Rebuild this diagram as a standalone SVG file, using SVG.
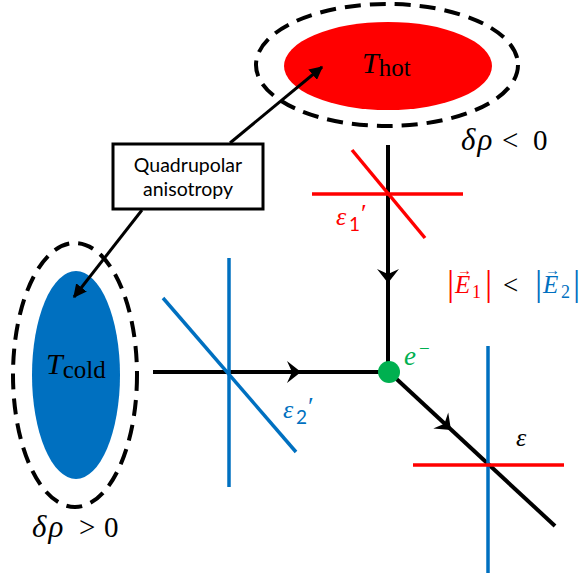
<svg xmlns="http://www.w3.org/2000/svg" width="584" height="575" viewBox="0 0 584 575">
<style>
.blk{stroke:#000;stroke-width:4;fill:none}
.red{stroke:#FF0000;stroke-width:3.5;fill:none}
.blu{stroke:#0070C0;stroke-width:3.5;fill:none}
.dash{stroke:#000;stroke-width:4;fill:none;stroke-dasharray:16 9}
.m{font-family:"Liberation Serif","DejaVu Serif",serif}
.s{font-family:"Lato","Liberation Sans",sans-serif}
.i{font-style:italic}
</style>
<defs>
<path id="chev" d="M0,0 L-14,-11 L-9,0 L-14,11 Z" fill="#000"/>
<marker id="tri" viewBox="0 0 10 10" refX="9" refY="5" markerWidth="4.5" markerHeight="4.5" orient="auto" markerUnits="strokeWidth">
<path d="M0,0 L10,5 L0,10 Z" fill="#000"/>
</marker>
</defs>
<rect width="584" height="575" fill="#fff"/>

<g id="hot">
<ellipse cx="387" cy="65" rx="131" ry="61" class="dash"/>
<ellipse cx="388" cy="66" rx="104" ry="44" fill="#FF0000"/>
<text x="362" y="73" class="m" font-size="30"><tspan class="i">T</tspan><tspan font-size="25" dy="3">hot</tspan></text>
<text y="150" class="m" font-size="29"><tspan x="461" class="i" font-size="31" letter-spacing="2">δρ</tspan><tspan x="502">&lt;</tspan><tspan x="533">0</tspan></text>
</g>

<g id="cold">
<ellipse cx="75" cy="375" rx="62" ry="132" class="dash"/>
<ellipse cx="76" cy="375" rx="44" ry="104" fill="#0070C0"/>
<text x="46" y="374" class="m" font-size="30"><tspan class="i">T</tspan><tspan font-size="25" dy="4">cold</tspan></text>
<text y="537" class="m" font-size="29"><tspan x="32" class="i" font-size="31" letter-spacing="2">δρ</tspan><tspan x="79">&gt;</tspan><tspan x="104">0</tspan></text>
</g>

<g id="box">
<rect x="113" y="144" width="150" height="65" fill="#fff" stroke="#000" stroke-width="3"/>
<text x="188" y="172" class="s" font-size="19.5" text-anchor="middle">Quadrupolar</text>
<text x="188" y="196" class="s" font-size="19.5" text-anchor="middle">anisotropy</text>
</g>

<g id="connectors">
<line x1="230" y1="143" x2="322" y2="67" stroke="#000" stroke-width="3" marker-end="url(#tri)"/>
<line x1="142" y1="210" x2="74" y2="297" stroke="#000" stroke-width="3" marker-end="url(#tri)"/>
<line x1="388" y1="145" x2="388" y2="372" class="blk"/>
<line x1="153" y1="372" x2="389" y2="372" class="blk"/>
<line x1="389" y1="372" x2="555" y2="526" class="blk"/>
<use href="#chev" transform="translate(388,283) rotate(90)"/>
<use href="#chev" transform="translate(301,372)"/>
<use href="#chev" transform="translate(451,430) rotate(42.9)"/>
</g>

<g id="polarizer1">
<line x1="312" y1="194" x2="463" y2="194" class="red"/>
<line x1="352" y1="150" x2="425" y2="238" class="red"/>
<text y="225" font-size="26" fill="#FF0000"><tspan x="336" class="m i">ε</tspan><tspan x="349" y="231" class="s" font-size="19">1</tspan><tspan x="361" y="222" class="m">′</tspan></text>
</g>

<g id="polarizer2">
<line x1="229" y1="258" x2="229" y2="487" class="blu"/>
<line x1="163" y1="298" x2="296" y2="452" class="blu"/>
<text y="418" font-size="26" fill="#0070C0"><tspan x="283" class="m i">ε</tspan><tspan x="296" y="424" class="s" font-size="19">2</tspan><tspan x="308" y="415" class="m">′</tspan></text>
</g>

<g id="detector">
<line x1="488" y1="346" x2="488" y2="573" class="blu"/>
<line x1="413" y1="465" x2="564" y2="465" class="red"/>
<text x="516" y="446" class="m i" font-size="26">ε</text>
</g>

<g id="electron">
<circle cx="389" cy="372" r="11" fill="#00B050"/>
<text y="365" class="m" font-size="27" fill="#00B050"><tspan x="404" class="i">e</tspan><tspan x="419" y="355" font-size="19">−</tspan></text>
</g>

<g id="relation" class="m">
<g fill="#FF0000">
<text x="447" y="295" font-size="36">|</text>
<text x="455" y="293" font-size="25" class="i">E</text>
<text x="457" y="275" font-size="15">→</text>
<text x="472" y="298" font-size="18">1</text>
<text x="485" y="295" font-size="36">|</text>
</g>
<text x="503" y="294" font-size="27">&lt;</text>
<g fill="#0070C0">
<text x="535" y="295" font-size="36">|</text>
<text x="543" y="293" font-size="25" class="i">E</text>
<text x="545" y="275" font-size="15">→</text>
<text x="561" y="298" font-size="18">2</text>
<text x="573" y="295" font-size="36">|</text>
</g>
</g>
</svg>
